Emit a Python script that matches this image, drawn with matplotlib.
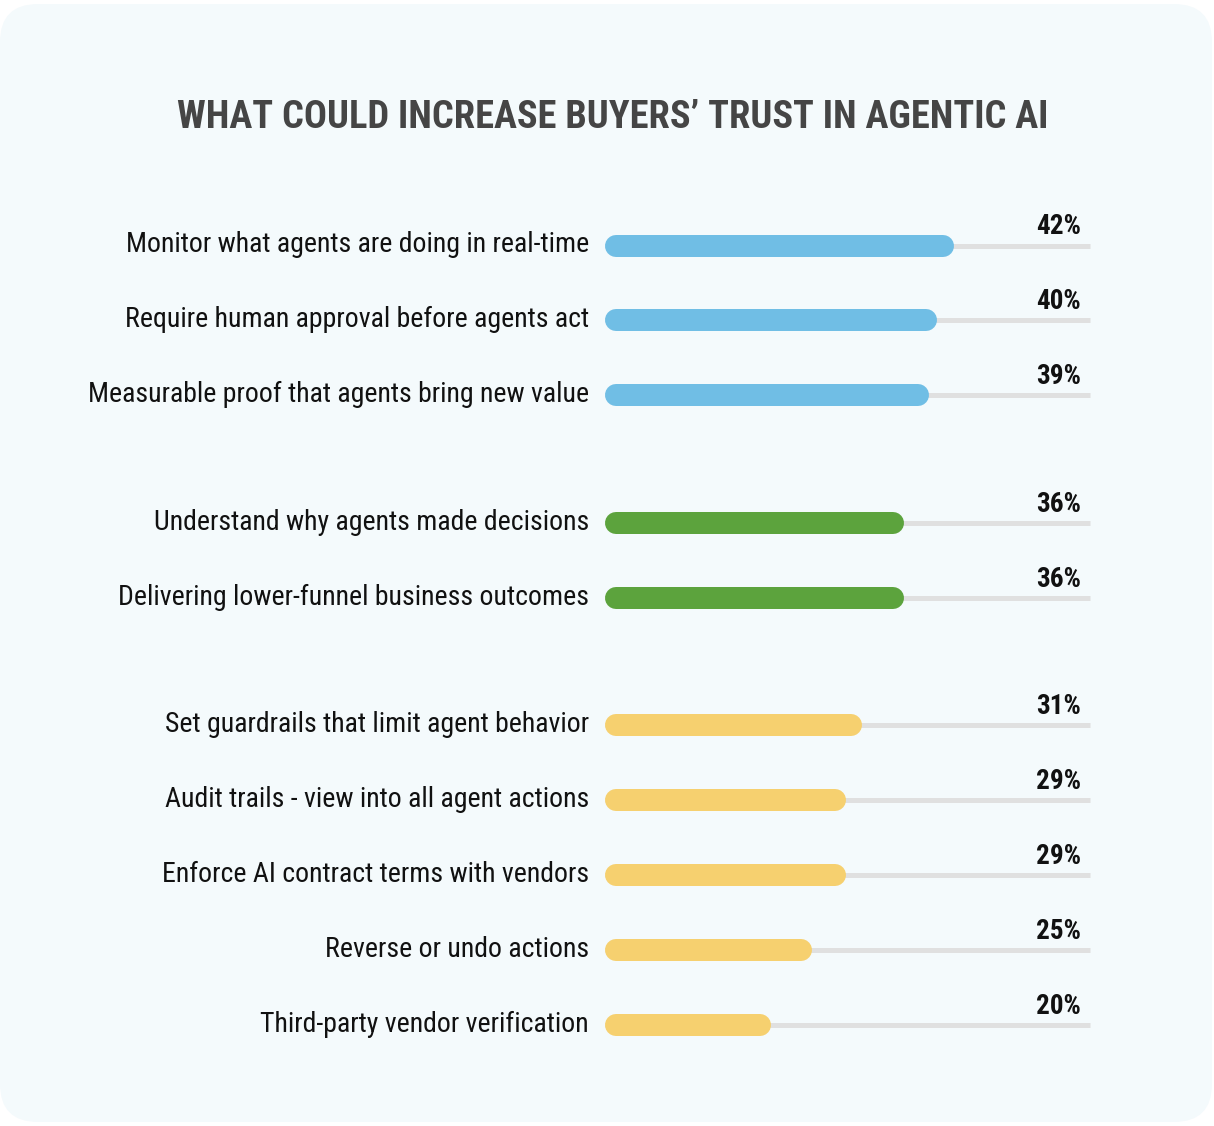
import matplotlib
matplotlib.use("Agg")
import matplotlib.pyplot as plt
from matplotlib import font_manager
from matplotlib.patches import FancyBboxPatch

# ---- data ----
categories = [
    "Monitor what agents are doing in real-time",
    "Require human approval before agents act",
    "Measurable proof that agents bring new value",
    "Understand why agents made decisions",
    "Delivering lower-funnel business outcomes",
    "Set guardrails that limit agent behavior",
    "Audit trails - view into all agent actions",
    "Enforce AI contract terms with vendors",
    "Reverse or undo actions",
    "Third-party vendor verification",
]
values = [42, 40, 39, 36, 36, 31, 29, 29, 25, 20]
groups = [0, 0, 0, 1, 1, 2, 2, 2, 2, 2]
group_colors = ["#70bee5", "#5ca33d", "#f6d06f"]
title = "WHAT COULD INCREASE BUYERS\u2019 TRUST IN AGENTIC AI"

# ---- fonts ----
names = {f.name for f in font_manager.fontManager.ttflist}
fam = None
for cand in ["Roboto Condensed", "Liberation Sans Narrow", "Roboto"]:
    if cand in names:
        fam = cand
        break
plt.rcParams["font.family"] = [fam, "DejaVu Sans"]

W, H = 1214, 1126
fig = plt.figure(figsize=(W / 100, H / 100), dpi=100)
fig.patch.set_facecolor("white")

card = FancyBboxPatch((0, 4), 1212, 1118,
                      boxstyle="round,pad=0,rounding_size=38",
                      transform=None, facecolor="#f4fafc", edgecolor="none", zorder=-10)
fig.patches.append(card)

ax = fig.add_axes([0, 0, 1, 1])
ax.set_zorder(5)
ax.set_facecolor("none")
px_per = 8.3
x0_px = 605
ax.set_xlim(-x0_px / px_per, (W - x0_px) / px_per)
ax.set_ylim(H, 0)
ax.axis("off")

track_end = (1090 - x0_px) / px_per
bar_h = 22
cap = (bar_h / 2) / px_per

# row positions
step, gap, y_start = 74.8, 53, 245.5
ys = []
y = y_start
for i, g in enumerate(groups):
    if i > 0:
        y += step + (gap if g != groups[i - 1] else 0)
    ys.append(y)

pt = 72 / 100  # px -> pt
for cat, v, g, yy in zip(categories, values, groups, ys):
    ax.plot([0, track_end], [yy, yy], color="#e0e0e0", lw=5 * pt,
            solid_capstyle="butt", zorder=1)
    ax.plot([cap, v - cap], [yy, yy], color=group_colors[g], lw=bar_h * pt,
            solid_capstyle="round", zorder=2)
    ax.text((1081 - x0_px) / px_per, yy - 11, f"{v}%", ha="right", va="baseline",
            fontsize=19.5, fontweight="bold", color="#111111")
    ax.text((589 - x0_px) / px_per, yy + 7, cat, ha="right", va="baseline",
            fontsize=20.1, color="#111111")

ax.text((613 - x0_px) / px_per, 128, title, ha="center", va="baseline",
        fontsize=27.6, fontweight="heavy", color="#454545")

fig.savefig("out.png", dpi=100, facecolor=fig.get_facecolor())
